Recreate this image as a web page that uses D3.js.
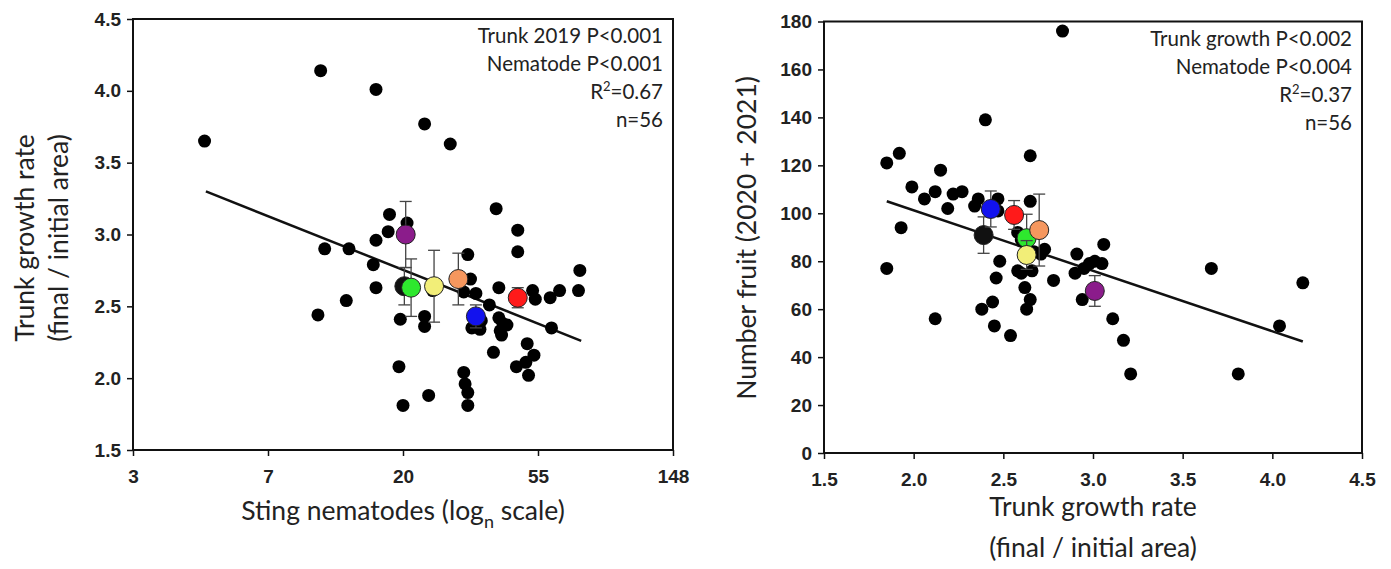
<!DOCTYPE html>
<html>
<head>
<meta charset="utf-8">
<script src="https://cdn.jsdelivr.net/npm/d3@7"></script>
<style>
  body { margin: 0; background: #fff; }
  .title { font-family: Lato, "Open Sans", sans-serif; fill: #222; }
</style>
</head>
<body>
<svg id="chart"></svg>
<script>
const W = 1391, H = 569;

// ---- left panel: trunk growth vs sting nematodes (x stored as ln of count)
const leftX = [1.53, 2.39, 2.80, 3.16, 3.35, 3.69, 3.85, 2.90, 2.89, 3.03, 2.80, 2.42, 2.60, 2.78,
  2.80, 2.58, 2.37, 2.98, 3.16, 3.16, 2.97, 3.00, 3.19, 3.85, 3.48, 4.31, 4.30, 3.22, 3.50, 3.45,
  3.54, 3.71, 3.96, 3.98, 4.09, 4.16, 3.64, 3.58, 3.51, 3.57, 3.71, 3.74, 3.77, 3.72, 3.73, 4.10,
  3.67, 3.92, 3.97, 3.91, 3.84, 3.93, 3.45, 3.46, 3.48, 3.48];
const leftY = [3.65, 4.14, 4.01, 3.77, 3.63, 3.18, 3.03, 3.14, 3.02, 3.08, 2.96, 2.90, 2.90, 2.79,
  2.63, 2.54, 2.44, 2.41, 2.43, 2.36, 2.08, 1.81, 1.88, 2.88, 2.86, 2.75, 2.61, 2.61, 2.69, 2.60,
  2.59, 2.63, 2.61, 2.55, 2.56, 2.61, 2.51, 2.40, 2.35, 2.34, 2.42, 2.38, 2.37, 2.33, 2.30, 2.35,
  2.18, 2.24, 2.16, 2.11, 2.08, 2.02, 2.04, 1.96, 1.90, 1.81];
const leftFitX = [1.54, 4.32];
const leftFitY = [3.30, 2.26];
const nemaTicks = [1, 2, 3, 4, 5];
const nemaTickLabels = ["3", "7", "20", "55", "148"];
const growthTicks = [1.5, 2.0, 2.5, 3.0, 3.5, 4.0, 4.5];

// ---- right panel: fruit vs trunk growth
const rightX = [2.83, 2.40, 2.65, 1.92, 1.85, 2.15, 1.99, 2.06, 2.12, 2.19, 2.22, 2.27, 1.93, 2.36,
  2.34, 2.47, 2.47, 2.65, 1.85, 2.12, 2.48, 2.46, 2.44, 2.38, 2.45, 2.54, 2.58, 2.62, 2.65, 2.63,
  2.66, 2.78, 2.58, 2.60, 2.67, 2.71, 2.73, 2.91, 3.06, 3.05, 3.01, 2.95, 2.90, 2.94, 3.11, 3.17,
  3.21, 3.66, 4.17, 4.04, 3.81, 2.60, 2.98];
const rightY = [176, 139, 124, 125, 121, 118, 111, 106, 109, 102, 108, 109, 94, 106,
  103, 106, 101, 105, 77, 56, 80, 73, 63, 60, 53, 49, 76, 69, 64, 60,
  76, 72, 92, 89, 84, 83, 85, 83, 87, 79, 80, 77, 75, 64, 56, 47,
  33, 77, 71, 53, 33, 75, 79];
const rightFitX = [1.85, 4.17];
const rightFitY = [105, 46.5];
const growthTicksR = [1.5, 2.0, 2.5, 3.0, 3.5, 4.0, 4.5];
const fruitTicks = [0, 20, 40, 60, 80, 100, 120, 140, 160, 180];

// ---- group means (with error bars)
const groupColors = ["#111111", "#8b1c8b", "#2ee82e", "#f2ee78", "#f6975e", "#1212ee", "#ff1a1a"];
const leftMeanX = [3.01, 3.02, 3.06, 3.23, 3.41, 3.54, 3.85];
const leftMeanY = [2.64, 3.00, 2.63, 2.64, 2.69, 2.43, 2.56];
const leftMeanErr = [0.13, 0.23, 0.20, 0.25, 0.18, 0.08, 0.07];
const rightMeanX = [2.39, 3.01, 2.63, 2.63, 2.70, 2.43, 2.56];
const rightMeanY = [90.9, 67.6, 89.6, 82.6, 93.0, 101.8, 99.3];
const rightMeanErr = [7.6, 6.4, 10, 6, 15, 7.5, 6];

const leftStats = ["Trunk 2019 P<0.001", "Nematode P<0.001", "R2=0.67", "n=56"];
const rightStats = ["Trunk growth P<0.002", "Nematode P<0.004", "R2=0.37", "n=56"];

const svg = d3.select("#chart").attr("width", W).attr("height", H);
svg.append("rect").attr("width", W).attr("height", H).attr("fill", "#fff");

function styleTicks(a) {
  a.attr("font-size", 19).attr("font-family", "'Liberation Sans', Arial, sans-serif");
  a.select(".domain").remove();
  a.selectAll(".tick line").attr("stroke", "#111").attr("stroke-width", 1.5);
  a.selectAll(".tick text").attr("fill", "#222").attr("font-weight", "bold");
}

function panel(opts) {
  const { x, y, xs, ys, fx, fy, mx, my, me, xTicks, xFmt, yTicks, yFmt, stats } = opts;
  const g = svg.append("g");
  const [x0, x1] = x.range(), [y0, y1] = y.range();

  g.append("g").attr("transform", `translate(0,${y0})`)
    .call(d3.axisBottom(x).tickValues(xTicks).tickFormat(xFmt).tickSize(6).tickPadding(14))
    .call(styleTicks);
  g.append("g").attr("transform", `translate(${x0},0)`)
    .call(d3.axisLeft(y).tickValues(yTicks).tickFormat(yFmt).tickSize(6).tickPadding(6))
    .call(styleTicks);

  g.append("rect").attr("x", x0).attr("y", y1).attr("width", x1 - x0).attr("height", y0 - y1)
    .attr("fill", "none").attr("stroke", "#111").attr("stroke-width", 2);

  // regression line
  g.append("line").attr("x1", x(fx[0])).attr("y1", y(fy[0])).attr("x2", x(fx[1])).attr("y2", y(fy[1]))
    .attr("stroke", "#111").attr("stroke-width", 2.5);

  g.append("g").selectAll("circle").data(d3.range(xs.length)).join("circle")
    .attr("cx", i => x(xs[i])).attr("cy", i => y(ys[i])).attr("r", 6.5).attr("fill", "#000");

  const means = g.append("g").selectAll("g").data(d3.range(mx.length)).join("g");
  means.append("line").attr("x1", i => x(mx[i])).attr("x2", i => x(mx[i]))
    .attr("y1", i => y(my[i] - me[i])).attr("y2", i => y(my[i] + me[i]))
    .attr("stroke", "#444").attr("stroke-width", 1.3);
  [-1, 1].forEach(s => {
    means.append("line").attr("x1", i => x(mx[i]) - 6).attr("x2", i => x(mx[i]) + 6)
      .attr("y1", i => y(my[i] + s * me[i])).attr("y2", i => y(my[i] + s * me[i]))
      .attr("stroke", "#444").attr("stroke-width", 1.3);
  });
  means.append("circle").attr("cx", i => x(mx[i])).attr("cy", i => y(my[i])).attr("r", 9.5)
    .attr("fill", i => groupColors[i]).attr("stroke", "#222").attr("stroke-width", 1);

  // stats text
  const st = g.append("g").attr("class", "title").attr("text-anchor", "end").style("font-size", "20.5px");
  stats.forEach((s, i) => {
    const t = st.append("text").attr("x", x1 - 10).attr("y", y1 + 24 + i * 28);
    if (s.startsWith("R2")) {
      t.append("tspan").text("R");
      t.append("tspan").text("2").attr("dy", -8).style("font-size", "13px");
      t.append("tspan").text(s.slice(2)).attr("dy", 8);
    } else t.text(s);
  });
  return g;
}

const xL = d3.scaleLinear().domain([1, 5]).range([133, 673]);
const yL = d3.scaleLinear().domain([1.5, 4.5]).range([450, 19]);
panel({ x: xL, y: yL, xs: leftX, ys: leftY, fx: leftFitX, fy: leftFitY,
  mx: leftMeanX, my: leftMeanY, me: leftMeanErr,
  xTicks: nemaTicks, xFmt: (d, i) => nemaTickLabels[i], yTicks: growthTicks, yFmt: d3.format(".1f"),
  stats: leftStats });

const xR = d3.scaleLinear().domain([1.5, 4.5]).range([824, 1362]);
const yR = d3.scaleLinear().domain([0, 180]).range([453, 21.5]);
panel({ x: xR, y: yR, xs: rightX, ys: rightY, fx: rightFitX, fy: rightFitY,
  mx: rightMeanX, my: rightMeanY, me: rightMeanErr,
  xTicks: growthTicksR, xFmt: d3.format(".1f"), yTicks: fruitTicks, yFmt: d3.format("d"),
  stats: rightStats });

// axis titles
const tf = "26.5px";
const lx = svg.append("text").attr("class", "title").attr("text-anchor", "middle")
  .attr("x", 403).attr("y", 520).style("font-size", tf);
lx.append("tspan").text("Sting nematodes (log");
lx.append("tspan").text("n").attr("dy", 8).style("font-size", "18px");
lx.append("tspan").text(" scale)").attr("dy", -8);

svg.append("text").attr("class", "title").attr("text-anchor", "middle").style("font-size", tf)
  .attr("transform", "translate(34,238) rotate(-90)").text("Trunk growth rate");
svg.append("text").attr("class", "title").attr("text-anchor", "middle").style("font-size", tf)
  .attr("transform", "translate(68,238) rotate(-90)").text("(final / initial area)");

svg.append("text").attr("class", "title").attr("text-anchor", "middle").style("font-size", tf)
  .attr("transform", "translate(756,238) rotate(-90)").text("Number fruit (2020 + 2021)");

svg.append("text").attr("class", "title").attr("text-anchor", "middle").style("font-size", tf)
  .attr("x", 1093).attr("y", 516).text("Trunk growth rate");
svg.append("text").attr("class", "title").attr("text-anchor", "middle").style("font-size", tf)
  .attr("x", 1093).attr("y", 557).text("(final / initial area)");
</script>
</body>
</html>
